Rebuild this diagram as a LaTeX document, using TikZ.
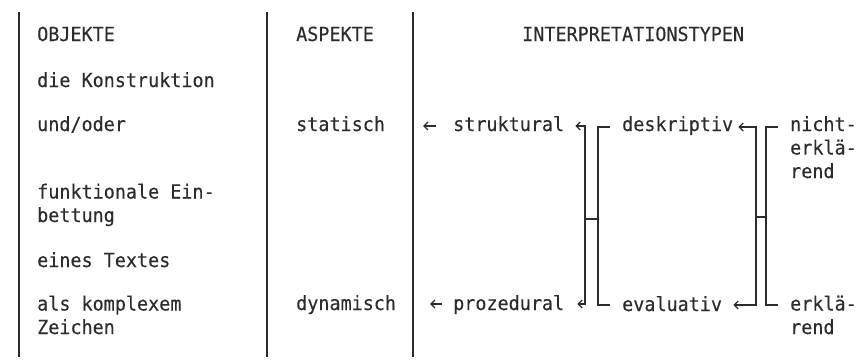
\documentclass[tikz,border=0pt]{standalone}
\usepackage{fontspec}
\setmonofont[FakeStretch=0.945, FakeBold=0.25]{DejaVu Sans Mono}
\usetikzlibrary{arrows.meta}
\definecolor{ink}{HTML}{2c2c2c}
\begin{document}
\begin{tikzpicture}[x=1pt,y=-1pt,
  txt/.style={font=\ttfamily\fontsize{19.5}{23.5}\selectfont, text=ink,
              inner sep=0pt, anchor=base west, align=left},
  colrule/.style={draw=ink, line width=2pt},
  link/.style={draw=ink, line width=1.3pt},
  tip/.style={-{Straight Barb[length=4pt,width=8pt]}},
  tips/.style={{Straight Barb[length=4pt,width=8pt]}-{Straight Barb[length=4pt,width=8pt]}}]
\useasboundingbox (0,0) rectangle (861,359);

% column rules
\draw[colrule] (19,12) -- (19,357);
\draw[colrule] (267,12) -- (267,357);
\draw[colrule] (413,12) -- (413,357);

% column 1: objects (multi-line nodes are placed by their last baseline)
\node[txt] (obj)   at (37,41)  {OBJEKTE};
\node[txt] (konst) at (37,87)  {die Konstruktion};
\node[txt] (und)   at (37,131) {und/oder};
\node[txt] (funk)  at (37,222) {funktionale Ein-\\bettung};
\node[txt] (text)  at (37,267) {eines Textes};
\node[txt] (zeich) at (37,334) {als komplexem\\Zeichen};

% column 2: aspects
\node[txt] (asp)  at (296,41)  {ASPEKTE};
\node[txt] (stat) at (296,131) {statisch};
\node[txt] (dyn)  at (296,310) {dynamisch};

% column 3: interpretation types
\node[txt] (ityp)  at (522,41)  {INTERPRETATIONSTYPEN};
\node[txt] (struk) at (453,131) {struktural};
\node[txt] (proz)  at (453,310) {prozedural};
\node[txt] (desk)  at (622,131) {deskriptiv};
\node[txt] (eval)  at (622,311) {evaluativ};
\node[txt] (nerk)  at (790,178) {nicht-\\erklä-\\rend};
\node[txt] (erk)   at (790,334) {erklä-\\rend};

% bracket corners
\coordinate (sl1) at (585,126);
\coordinate (sl2) at (585,304);
\coordinate (sr1) at (598,127);
\coordinate (sr2) at (598,305);
\coordinate (dl1) at (756,127);
\coordinate (dl2) at (756,305);
\coordinate (dr1) at (766,127);
\coordinate (dr2) at (766,305);

% arrows towards the aspects column
\draw[link,tip] ([xshift=-17pt]struk.west |- sl1) -- ([xshift=-30pt]struk.west |- sl1);
\draw[link,tip] ([xshift=-11pt]proz.west |- sl2) -- ([xshift=-23pt]proz.west |- sl2);

% struktural/prozedural bracket
\draw[link,tips] ([xshift=11pt]struk.east |- sl1) -- (sl1) -- (sl2) -- ([xshift=13pt]proz.east |- sl2);
% deskriptiv/evaluativ bracket
\draw[link] ([xshift=-12pt]desk.west |- sr1) -- (sr1) -- (sr2) -- ([xshift=-12pt]eval.west |- sr2);
\draw[link] (585,219) -- (598,219);

% deskriptiv/evaluativ arrow bracket
\draw[link,tips] ([xshift=5pt]desk.east |- dl1) -- (dl1) -- (dl2) -- ([xshift=11pt]eval.east |- dl2);
% nicht-erklärend/erklärend bracket
\draw[link] ([xshift=-12pt]nerk.west |- dr1) -- (dr1) -- (dr2) -- ([xshift=-12pt]erk.west |- dr2);
\draw[link] (756,217) -- (766,217);
\end{tikzpicture}
\end{document}
